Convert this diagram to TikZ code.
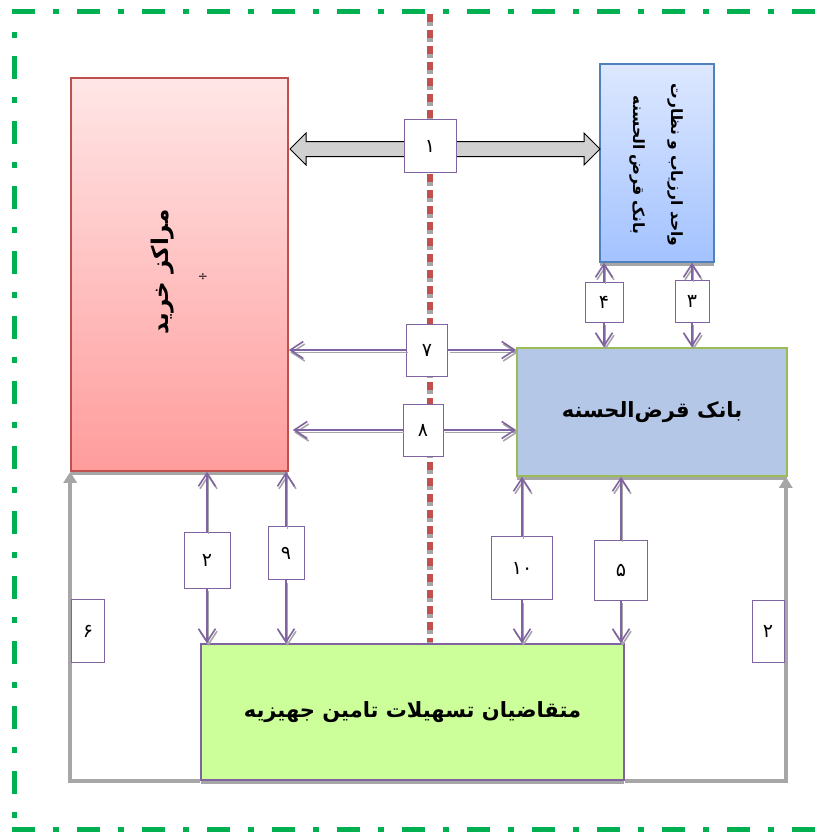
\documentclass[tikz,border=0pt]{standalone}
\usepackage{fontspec}
\usepackage{xcolor}
\usetikzlibrary{arrows.meta,shadows}
\TeXXeTstate=1
\newfontfamily\farsi[Script=Arabic]{DejaVu Sans}

\definecolor{framegreen}{HTML}{00B050}
\definecolor{dividerred}{HTML}{C0504D}
\definecolor{shadegray}{HTML}{A6A6A6}
\definecolor{numpurple}{HTML}{8064A2}
\definecolor{pinktop}{HTML}{FFE6E6}
\definecolor{pinkbottom}{HTML}{FF9C9C}
\definecolor{unittop}{HTML}{DDE8FF}
\definecolor{unitbottom}{HTML}{A3C2FF}
\definecolor{unitborder}{HTML}{4F81BD}
\definecolor{bankfill}{HTML}{B4C7E7}
\definecolor{bankborder}{HTML}{9BBB59}
\definecolor{applyfill}{HTML}{CCFF99}
\definecolor{blockgray}{HTML}{D0D0D0}

\tikzset{
  outerframe/.style={draw=framegreen, line width=5pt, dash pattern=on 23pt off 18pt on 6pt off 18pt},
  divider/.style={draw=dividerred, line width=6pt, dash pattern=on 8pt off 8pt},
  dividershade/.style={draw=shadegray, line width=6pt, dash pattern=on 8pt off 8pt},
  mainbox/.style={line width=1.6pt, inner sep=0pt,
    drop shadow={shadow xshift=0pt, shadow yshift=-4pt, fill=shadegray, opacity=1}},
  numbox/.style={draw=numpurple, line width=1pt, fill=white, inner sep=0pt,
    font=\farsi\fontsize{19}{21}\selectfont},
  flow/.style={draw=numpurple, line width=1.6pt, -{Straight Barb[length=13pt,width=17pt]},
    preaction={draw=shadegray, line width=1.6pt, -{Straight Barb[length=13pt,width=17pt]},
      transform canvas={shift={(1.5pt,-2.5pt)}}}},
  loopline/.style={draw=shadegray, line width=3.5pt, -{Triangle[length=11pt,width=13pt]}},
  bigtext/.style={font=\farsi\bfseries\fontsize{21}{24}\selectfont},
  unittext/.style={font=\farsi\bfseries\fontsize{15.5}{18}\selectfont, rotate=-90}
}

\begin{document}
\begin{tikzpicture}[x=1pt, y=-1pt]
  \useasboundingbox (0,0) rectangle (828,832);

  % outer dash-dot frame, its right side lies off the page
  \draw[outerframe] (12,12) -- (845,12);
  \draw[outerframe, dash phase=21pt] (14.5,12) -- (14.5,829);
  \draw[outerframe] (12,829) -- (845,829);

  % dividing line
  \draw[dividershade] (430,18) -- (430,646);
  \draw[divider] (430,14) -- (430,642);

  % the four main boxes
  \node[mainbox, draw=dividerred, top color=pinktop, bottom color=pinkbottom,
    minimum width=217pt, minimum height=393pt] (shops) at (179.5,274.5) {};
  \node[rotate=90, font=\farsi\bfseries\fontsize{23}{26}\selectfont] (shopstext) at (163,272) {\beginR مراکز خرید\endR};
  \node[font=\farsi\fontsize{12}{14}\selectfont] (shopsmark) at (203,277) {÷};

  \node[mainbox, draw=unitborder, top color=unittop, bottom color=unitbottom,
    minimum width=114pt, minimum height=198pt] (unit) at (657,163) {};
  \node[unittext] (unitline1) at (675,165) {\beginR واحد ارزیاب و نظارت\endR};
  \node[unittext] (unitline2) at (637,165) {\beginR بانک قرض الحسنه\endR};

  \node[mainbox, draw=bankborder, fill=bankfill,
    minimum width=270pt, minimum height=128pt] (bank) at (652,412) {};
  \node[bigtext] (banktext) at (bank) {\beginR بانک قرض‌الحسنه\endR};

  \node[mainbox, draw=numpurple, fill=applyfill,
    minimum width=423pt, minimum height=136pt] (apply) at (412.5,712) {};
  \node[bigtext] (applytext) at (apply) {\beginR متقاضیان تسهیلات تامین جهیزیه\endR};

  % wide double arrow between the shops and the unit
  \draw[fill=blockgray, line width=1pt] (290,149) -- (306,133) -- (306,141.5) -- (584,141.5)
    -- (584,133) -- (600,149) -- (584,165) -- (584,156.5) -- (306,156.5) -- (306,165) -- cycle;

  % gray loops at the bottom
  \draw[loopline] (apply.south west) -| (shops.south west);
  \draw[loopline] (apply.south east) -| ([xshift=-2pt]bank.south east);

  % numbered boxes
  \node[numbox, minimum width=52pt, minimum height=52pt] (n1) at (430,146) {۱};
  \node[numbox, minimum width=38pt, minimum height=40pt] (n4) at (604,302) {۴};
  \node[numbox, minimum width=34pt, minimum height=42pt] (n3) at (692,301) {۳};
  \node[numbox, minimum width=41pt, minimum height=52pt] (n7) at (427,350) {۷};
  \node[numbox, minimum width=40pt, minimum height=52pt] (n8) at (423,430) {۸};
  \node[numbox, minimum width=46pt, minimum height=56pt] (n2) at (207,560) {۲};
  \node[numbox, minimum width=36pt, minimum height=53pt] (n9) at (286,553) {۹};
  \node[numbox, minimum width=61pt, minimum height=63pt] (n10) at (522,568) {۱۰};
  \node[numbox, minimum width=53pt, minimum height=60pt] (n5) at (621,570) {۵};
  \node[numbox, minimum width=33pt, minimum height=63pt] (n6) at (88,631) {۶};
  \node[numbox, minimum width=32pt, minimum height=62pt] (n2r) at (768,631) {۲};

  % thin double arrows, split by their number boxes
  \draw[flow] (n4.north) -- (n4 |- unit.south);
  \draw[flow] (n4.south) -- (n4 |- bank.north);
  \draw[flow] (n3.north) -- (n3 |- unit.south);
  \draw[flow] (n3.south) -- (n3 |- bank.north);
  \draw[flow] (n7.west) -- (n7 -| shops.east);
  \draw[flow] (n7.east) -- (n7 -| bank.west);
  \draw[flow] (n8.west) -- ([xshift=4pt]n8 -| shops.east);
  \draw[flow] (n8.east) -- (n8 -| bank.west);
  \draw[flow] (n2.north) -- (n2 |- shops.south);
  \draw[flow] (n2.south) -- (n2 |- apply.north);
  \draw[flow] (n9.north) -- (n9 |- shops.south);
  \draw[flow] (n9.south) -- (n9 |- apply.north);
  \draw[flow] (n10.north) -- (n10 |- bank.south);
  \draw[flow] (n10.south) -- (n10 |- apply.north);
  \draw[flow] (n5.north) -- (n5 |- bank.south);
  \draw[flow] (n5.south) -- (n5 |- apply.north);
\end{tikzpicture}
\end{document}
